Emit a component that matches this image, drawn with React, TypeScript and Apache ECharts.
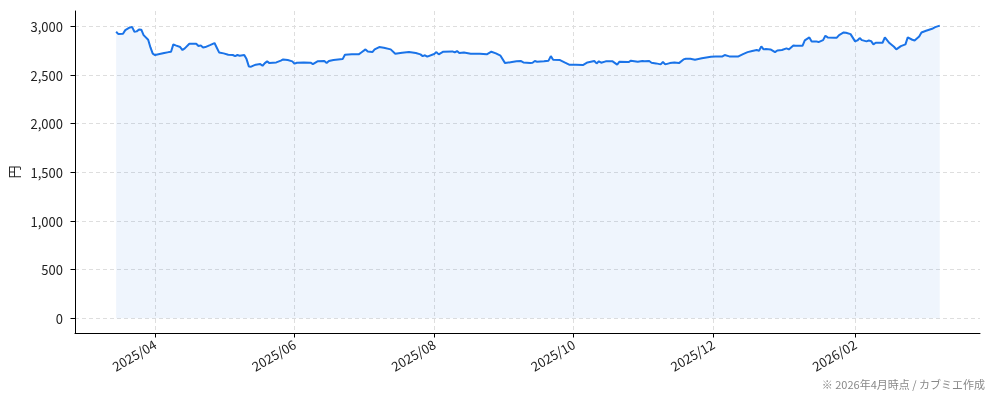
import { useEffect, useRef } from 'react';
import * as echarts from 'echarts';

// 終値（日付と円）
const dates = [
  '2025-03-15', '2025-03-16', '2025-03-18', '2025-03-19', '2025-03-21', '2025-03-22', '2025-03-23', '2025-03-24',
  '2025-03-25', '2025-03-26', '2025-03-27', '2025-03-29', '2025-03-30', '2025-03-31', '2025-04-01', '2025-04-05',
  '2025-04-07', '2025-04-08', '2025-04-09', '2025-04-10', '2025-04-12', '2025-04-13', '2025-04-14', '2025-04-16',
  '2025-04-19', '2025-04-20', '2025-04-21', '2025-04-22', '2025-04-23', '2025-04-25', '2025-04-27', '2025-04-28',
  '2025-04-29', '2025-05-01', '2025-05-03', '2025-05-05', '2025-05-06', '2025-05-07', '2025-05-08', '2025-05-10',
  '2025-05-11', '2025-05-12', '2025-05-13', '2025-05-15', '2025-05-17', '2025-05-18', '2025-05-19', '2025-05-20',
  '2025-05-21', '2025-05-24', '2025-05-26', '2025-05-27', '2025-05-29', '2025-05-31', '2025-06-01', '2025-06-02',
  '2025-06-05', '2025-06-08', '2025-06-09', '2025-06-11', '2025-06-14', '2025-06-15', '2025-06-16', '2025-06-18',
  '2025-06-22', '2025-06-23', '2025-06-26', '2025-06-29', '2025-06-30', '2025-07-02', '2025-07-03', '2025-07-05',
  '2025-07-06', '2025-07-08', '2025-07-10', '2025-07-13', '2025-07-15', '2025-07-18', '2025-07-21', '2025-07-24',
  '2025-07-26', '2025-07-27', '2025-07-28', '2025-07-29', '2025-08-01', '2025-08-02', '2025-08-03', '2025-08-05',
  '2025-08-09', '2025-08-10', '2025-08-11', '2025-08-12', '2025-08-14', '2025-08-17', '2025-08-21', '2025-08-24',
  '2025-08-26', '2025-08-28', '2025-08-30', '2025-09-01', '2025-09-04', '2025-09-06', '2025-09-08', '2025-09-09',
  '2025-09-12', '2025-09-13', '2025-09-14', '2025-09-15', '2025-09-18', '2025-09-20', '2025-09-21', '2025-09-22',
  '2025-09-25', '2025-09-27', '2025-09-29', '2025-10-02', '2025-10-05', '2025-10-07', '2025-10-10', '2025-10-11',
  '2025-10-12', '2025-10-13', '2025-10-15', '2025-10-18', '2025-10-20', '2025-10-21', '2025-10-25', '2025-10-26',
  '2025-10-29', '2025-10-31', '2025-11-01', '2025-11-03', '2025-11-04', '2025-11-06', '2025-11-08', '2025-11-09',
  '2025-11-10', '2025-11-12', '2025-11-14', '2025-11-16', '2025-11-18', '2025-11-19', '2025-11-21', '2025-11-23',
  '2025-11-26', '2025-11-30', '2025-12-02', '2025-12-05', '2025-12-06', '2025-12-08', '2025-12-12', '2025-12-14',
  '2025-12-16', '2025-12-18', '2025-12-20', '2025-12-21', '2025-12-22', '2025-12-23', '2025-12-24', '2025-12-26',
  '2025-12-28', '2025-12-29', '2025-12-31', '2026-01-02', '2026-01-03', '2026-01-05', '2026-01-06', '2026-01-09',
  '2026-01-10', '2026-01-12', '2026-01-13', '2026-01-15', '2026-01-16', '2026-01-18', '2026-01-19', '2026-01-20',
  '2026-01-23', '2026-01-24', '2026-01-25', '2026-01-27', '2026-01-28', '2026-01-30', '2026-02-01', '2026-02-02',
  '2026-02-03', '2026-02-04', '2026-02-06', '2026-02-07', '2026-02-08', '2026-02-09', '2026-02-10', '2026-02-13',
  '2026-02-14', '2026-02-16', '2026-02-18', '2026-02-19', '2026-02-21', '2026-02-23', '2026-02-24', '2026-02-26',
  '2026-02-27', '2026-03-01', '2026-03-02', '2026-03-04', '2026-03-07', '2026-03-08', '2026-03-10',
];

const prices = [
  2945, 2921, 2925, 2962, 2990, 2993, 2945, 2949,
  2969, 2966, 2911, 2863, 2784, 2720, 2706, 2726,
  2736, 2740, 2815, 2805, 2788, 2757, 2774, 2822,
  2822, 2798, 2805, 2784, 2788, 2808, 2829, 2781,
  2733, 2723, 2709, 2706, 2695, 2706, 2699, 2706,
  2664, 2589, 2586, 2607, 2613, 2596, 2623, 2641,
  2623, 2630, 2648, 2661, 2654, 2641, 2617, 2627,
  2630, 2627, 2613, 2641, 2644, 2623, 2644, 2654,
  2664, 2709, 2713, 2713, 2730, 2764, 2743, 2736,
  2764, 2788, 2781, 2764, 2720, 2730, 2736, 2726,
  2713, 2695, 2703, 2689, 2716, 2736, 2713, 2740,
  2743, 2733, 2747, 2726, 2733, 2720, 2720, 2713,
  2740, 2723, 2699, 2623, 2634, 2641, 2644, 2630,
  2625, 2627, 2644, 2637, 2641, 2648, 2695, 2658,
  2654, 2630, 2607, 2607, 2603, 2630, 2644, 2620,
  2641, 2627, 2641, 2641, 2607, 2637, 2634, 2648,
  2637, 2644, 2641, 2644, 2627, 2620, 2610, 2634,
  2610, 2623, 2630, 2623, 2661, 2668, 2668, 2658,
  2672, 2689, 2692, 2692, 2706, 2692, 2692, 2716,
  2736, 2747, 2757, 2750, 2795, 2764, 2767, 2764,
  2736, 2753, 2757, 2774, 2764, 2805, 2801, 2801,
  2856, 2887, 2846, 2846, 2839, 2859, 2904, 2887,
  2884, 2884, 2911, 2938, 2935, 2921, 2846, 2856,
  2880, 2859, 2846, 2856, 2849, 2815, 2832, 2832,
  2887, 2829, 2791, 2764, 2798, 2815, 2887, 2863,
  2856, 2897, 2938, 2956, 2979, 2993, 3008,
];

const xTickDates = ['2025-04-01', '2025-06-01', '2025-08-01', '2025-10-01', '2025-12-01', '2026-02-01'];
const yTicks = [0, 500, 1000, 1500, 2000, 2500, 3000];
const note = '※ 2026年4月時点 / カブミエ作成';

const FONT = '"Noto Sans CJK JP", "Noto Sans", sans-serif';

const toTime = (s: string) => {
  const [y, m, d] = s.split('-').map(Number);
  return new Date(y, m - 1, d).getTime();
};

const App = () => {
  const ref = useRef<HTMLDivElement>(null);

  useEffect(() => {
    if (!ref.current) return;
    const chart = echarts.init(ref.current, undefined, { renderer: 'svg' });

    const seriesData = dates.map((d, i) => [toTime(d), prices[i]]);
    const xTicks = xTickDates.map(toTime);

    chart.setOption({
      animation: false,
      grid: { left: 75, right: 14, top: 11, bottom: 68, outerBoundsMode: 'none' },
      xAxis: {
        type: 'value',
        scale: true,
        min: new Date(2025, 1, 25, 0, 30).getTime(),
        max: new Date(2026, 2, 27, 14, 0).getTime(),
        axisLine: { onZero: false, lineStyle: { color: '#000', width: 1 } },
        axisTick: { show: true, length: 4.5, customValues: xTicks, lineStyle: { color: '#000' } },
        axisLabel: {
          customValues: xTicks,
          rotate: 30,
          margin: 10,
          color: '#222',
          fontSize: 13,
          fontFamily: FONT,
          formatter: (v: number) => {
            const d = new Date(v);
            return `${d.getFullYear()}/${String(d.getMonth() + 1).padStart(2, '0')}`;
          },
        },
        splitLine: { show: true, lineStyle: { color: '#dedede', type: [4, 3], width: 1 } },
      },
      yAxis: {
        type: 'value',
        min: -150.4,
        max: 3158.4,
        name: '円',
        nameLocation: 'middle',
        nameRotate: 90,
        nameGap: 55,
        nameTextStyle: { color: '#222', fontSize: 13, fontFamily: FONT },
        axisLine: { show: true, onZero: false, lineStyle: { color: '#000', width: 1 } },
        axisTick: { show: true, length: 4.5, customValues: yTicks, lineStyle: { color: '#000' } },
        axisLabel: {
          customValues: yTicks,
          margin: 12,
          color: '#222',
          fontSize: 13,
          fontFamily: FONT,
          formatter: (v: number) => v.toLocaleString('en-US'),
        },
        splitLine: { show: true, lineStyle: { color: '#dedede', type: [4, 3], width: 1 } },
      },
      series: [
        {
          type: 'line',
          data: seriesData,
          showSymbol: false,
          symbol: 'none',
          lineStyle: { color: '#1a73e8', width: 2 },
          itemStyle: { color: '#1a73e8' },
          areaStyle: { color: 'rgba(26, 115, 232, 0.1)', origin: 'auto' },
        },
      ],
      graphic: [
        {
          type: 'text',
          right: 9,
          top: 378,
          style: { text: note, fill: '#888', font: `11px ${FONT}` },
        },
      ],
    });

    return () => chart.dispose();
  }, []);

  return <div ref={ref} style={{ position: 'fixed', left: 0, top: 0, width: '100vw', height: '100vh' }} />;
};

export default App;
